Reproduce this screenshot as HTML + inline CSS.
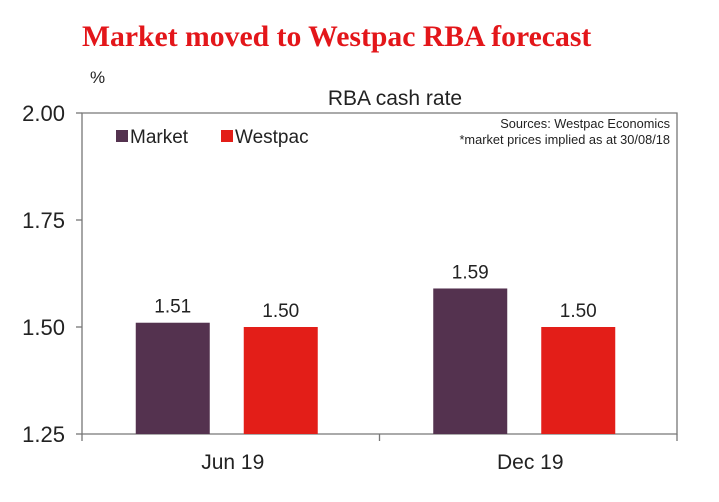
<!DOCTYPE html>
<html><head><meta charset="utf-8"><style>
body{margin:0;background:#fff;width:719px;height:497px;overflow:hidden}
svg text{font-family:"Liberation Sans",Arial,sans-serif}
</style></head><body>
<svg width="719" height="497" xmlns="http://www.w3.org/2000/svg" id="chart">
<text x="82" y="46" font-size="29.7" font-weight="bold" fill="#e3161a" style="font-family:'Liberation Serif',serif">Market moved to Westpac RBA forecast</text>
<text x="90" y="83" font-size="17" fill="#222">%</text>
<text x="395" y="105" font-size="21" fill="#222" text-anchor="middle">RBA cash rate</text>
<g id="plot"></g>
<rect x="116" y="130" width="12" height="12" fill="#54324f"/>
<text x="130" y="143" font-size="19" fill="#222">Market</text>
<rect x="221" y="130" width="12" height="12" fill="#e31e18"/>
<text x="235" y="143" font-size="19" fill="#222">Westpac</text>
<text x="670" y="128" font-size="12.8" fill="#222" text-anchor="end">Sources: Westpac Economics</text>
<text x="670" y="144" font-size="12.8" fill="#222" text-anchor="end">*market prices implied as at 30/08/18</text>
</svg>
<script>
const categories=["Jun 19","Dec 19"];
const marketValues=[1.51,1.59];
const westpacValues=[1.50,1.50];
const yTicks=[1.25,1.50,1.75,2.00];
const NS="http://www.w3.org/2000/svg";
const L=82,R=677,T=113,B=434,ymin=1.25,ymax=2.0;
const y=v=>B-(v-ymin)/(ymax-ymin)*(B-T);
const bandW=(R-L)/categories.length;
const g=document.getElementById('plot');
function mk(t,a,txt){const e=document.createElementNS(NS,t);for(const k in a)e.setAttribute(k,a[k]);if(txt!==undefined)e.textContent=txt;g.appendChild(e);return e;}
let e=mk('path',{d:`M${L} ${T}H${R}V${B}H${L}Z`,fill:'none',stroke:'#777','stroke-width':1.3});


yTicks.forEach(v=>{
 let t=mk('line',{x1:L-6,x2:L,y1:y(v),y2:y(v),stroke:'#777','stroke-width':1.3});
 
 
 let l=mk('text',{x:65,y:y(v)+8,'font-size':22,fill:'#222','text-anchor':'end'},v.toFixed(2));
 
 
});
for(let i=0;i<=categories.length;i++){
 let t=mk('line',{x1:L+i*bandW,x2:L+i*bandW,y1:B,y2:B+7,stroke:'#777','stroke-width':1.3});
 
 
}
const bw=74;
categories.forEach((c,i)=>{
 const cx=L+bandW*(i+0.5);
 let l=mk('text',{x:cx+2,y:469,'font-size':21,fill:'#222','text-anchor':'middle'},c);
 
 
 [[marketValues[i],'#54324f','market',cx-95],[westpacValues[i],'#e31e18','westpac',cx+13]].forEach(([v,col,n,xx])=>{
  let r=mk('rect',{x:xx,y:y(v),width:bw,height:B-y(v),fill:col});
  
  
  let tl=mk('text',{x:xx+bw/2,y:y(v)-10,'font-size':19,fill:'#222','text-anchor':'middle'},v.toFixed(2));
  
  
 });
});
</script>
</body></html>
